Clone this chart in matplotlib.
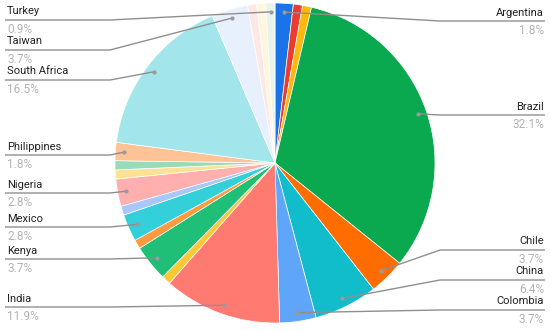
import numpy as np
import matplotlib
matplotlib.use("Agg")
import matplotlib.pyplot as plt

# counts per country, clockwise from the top
countries = ["Argentina", "Australia", "Bangladesh", "Brazil", "Chile", "China",
             "Colombia", "India", "Indonesia", "Kenya", "Malaysia", "Mexico",
             "Nepal", "Nigeria", "Pakistan", "Peru", "Philippines",
             "South Africa", "Taiwan", "Tanzania", "Thailand", "Turkey"]
counts = [2, 1, 1, 35, 4, 7, 4, 13, 1, 4, 1, 3, 1, 3, 1, 1, 2, 18, 4, 1, 1, 1]
colors = ["#1a73e8", "#ee3b30", "#fbb80f", "#0aa84f", "#ff6d01", "#12bdcb",
          "#5fa6fa", "#ff7b72", "#fcc934", "#1fbf78", "#ff9a3e", "#33d0d9",
          "#a8c7fa", "#ffafae", "#fde293", "#97dbb8", "#ffc395",
          "#a2e5ea", "#e8f0fe", "#fde8e6", "#fef6df", "#e6f4ea"]

# labelled slices: side and y (pixels) of the leader line
labelled = {
    "Turkey": ("L", 20), "Taiwan": ("L", 50), "South Africa": ("L", 80),
    "Philippines": ("L", 155), "Nigeria": ("L", 193), "Mexico": ("L", 227),
    "Kenya": ("L", 259), "India": ("L", 307),
    "Argentina": ("R", 21), "Brazil": ("R", 115), "Chile": ("R", 250),
    "China": ("R", 280), "Colombia": ("R", 310),
}

W, H = 550, 331
CX, CY, R = 275, 163, 160


def pix(px, py):
    return (px - CX) / R, (CY - py) / R


plt.rcParams["font.family"] = ["Roboto", "DejaVu Sans"]
fig = plt.figure(figsize=(W / 100, H / 100), dpi=100)
ax = fig.add_axes([0, 0, 1, 1])

wedges, _ = ax.pie(counts, colors=colors, startangle=90, counterclock=False,
                   radius=1, center=(0, 0),
                   wedgeprops=dict(edgecolor="white", linewidth=0.5))
ax.set_aspect("auto")
x0, y0 = pix(0, H)
x1, y1 = pix(W, 0)
ax.set_xlim(x0, x1)
ax.set_ylim(y0, y1)
ax.axis("off")

total = sum(counts)
for w, name, c in zip(wedges, countries, counts):
    if name not in labelled:
        continue
    side, ly = labelled[name]
    mid = np.deg2rad((w.theta1 + w.theta2) / 2)
    dx, dy = 0.945 * np.cos(mid), 0.945 * np.sin(mid)
    if side == "L":
        edge, elbow, tx, ha = 5, 110, 7, "left"
    else:
        edge, elbow, tx, ha = 545, 440, 544, "right"
    ex, ey = pix(edge, ly)
    bx, by = pix(elbow, ly)
    ax.plot([ex, bx, dx], [ey, by, dy], color="#8f8f8f", lw=1.0,
            solid_capstyle="butt", zorder=5)
    ax.plot(dx, dy, "o", ms=3, color="#9a9a9a", mec="none", zorder=6)
    nx, ny = pix(tx, ly - 8.5)
    ax.text(nx, ny, name, ha=ha, va="center", fontsize=8, color="#222222")
    px_, py_ = pix(tx, ly + 9.5)
    ax.text(px_, py_, f"{c / total * 100:.1f}%", ha=ha, va="center",
            fontsize=8.5, color="#b3b3b3")

fig.savefig("out.png", dpi=100)
